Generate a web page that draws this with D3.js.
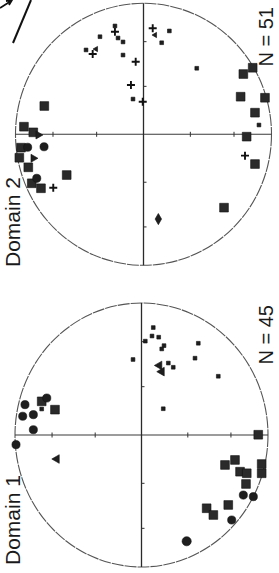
<!DOCTYPE html>
<html>
<head>
<meta charset="utf-8">
<script src="https://cdn.jsdelivr.net/npm/d3@7"></script>
<style>
  html, body { margin: 0; padding: 0; background: #fff; }
  svg { display: block; }
</style>
</head>
<body>
<svg id="fig" width="279" height="573"></svg>
<script>
// plunges marked with ticks on the net axes
const tickPlunges = [30, 60];

// Domain 2 (top net), projected coords in unit circle [u, v]
const d2Squares = [[-0.775,0.216],[-0.934,0.058],[-0.861,0.015],[-0.957,-0.102],[-0.970,-0.179],
  [-0.900,-0.252],[-0.873,-0.374],[-0.801,-0.412],[-0.600,-0.311],[0.853,0.508],[0.780,0.460],
  [0.759,0.287],[0.949,0.279],[0.871,0.165],[0.806,-0.018],[0.871,-0.227],[0.629,-0.560]];
const d2Circles = [[-0.905,-0.099],[-0.777,-0.095],[-0.834,-0.336]];
const d2Triangles = [[-0.822,-0.005],[-0.861,-0.183]];
const d2SmallTri = [[0.090,0.758],[-0.371,0.651]];
const d2Plus = [[-0.223,0.783],[-0.397,0.613],[-0.061,0.554],[-0.098,0.376],[-0.006,0.249],
  [0.072,0.809],[0.793,-0.163],[-0.705,-0.408]];
const d2Dots = [[-0.223,0.827],[-0.199,0.735],[-0.160,0.705],[-0.160,0.605],[-0.340,0.745],
  [-0.449,0.644],[-0.082,0.269],[0.202,0.789],[0.142,0.699],[0.416,0.504],[0.902,0.071]];
const d2Diamonds = [[0.116,-0.647]];

// Domain 1 (bottom net)
const d1Squares = [[-0.789,0.255],[-0.684,0.192],[0.923,0.002],[0.660,-0.227],[0.739,-0.189],
  [0.779,-0.278],[0.832,-0.290],[0.826,-0.371],[0.950,-0.220],[0.950,-0.290],[0.515,-0.555],
  [0.568,-0.606],[0.686,-0.530]];
const d1Circles = [[-0.992,-0.073],[-0.939,0.142],[-0.921,0.230],[-0.855,0.154],[-0.855,0.040],
  [-0.749,0.280],[0.805,-0.455],[0.884,-0.467],[0.713,-0.644]];
const d1BigCircles = [[0.357,-0.805]];
const d1Triangles = [[-0.670,-0.182],[0.141,0.527],[0.160,0.480]];
const d1Dots = [[0.093,0.814],[0.083,0.750],[0.136,0.741],[0.030,0.711],[0.178,0.677],[0.160,0.652],
  [-0.067,0.572],[0.449,0.695],[0.423,0.582],[0.212,0.545],[0.251,0.513],[0.607,0.445],
  [0.172,0.199],[-0.789,0.197]];

const svg = d3.select("#fig");
const font = "'Liberation Sans', Arial, sans-serif";

function net(cx, cy, rx, ry, layers, label, count) {
    const x = d3.scaleLinear().domain([-1, 1]).range([cx - rx, cx + rx]);
    const y = d3.scaleLinear().domain([-1, 1]).range([cy + ry, cy - ry]);
    const g = svg.append("g");

    g.append("ellipse")
        .attr("cx", x(0)).attr("cy", y(0))
        .attr("rx", rx).attr("ry", ry)
        .attr("fill", "none")
        .attr("stroke", "#555")
        .attr("stroke-width", 1.1)
        .attr("stroke-dasharray", "12,1");

    g.append("line")
        .attr("x1", x(-1)).attr("x2", x(1)).attr("y1", y(0)).attr("y2", y(0))
        .attr("stroke", "#3a3a3a").attr("stroke-width", 1.1);
    g.append("line")
        .attr("x1", x(0)).attr("x2", x(0)).attr("y1", y(-1)).attr("y2", y(1))
        .attr("stroke", "#2a2a2a").attr("stroke-width", 1.3);

    // equal-area tick positions
    const tv = [];
    tickPlunges.forEach(p => {
        const r = Math.SQRT2 * Math.sin((90 - p) / 2 * Math.PI / 180);
        tv.push(r, -r);
    });
    g.selectAll(".tx").data(tv).enter().append("line")
        .attr("x1", d => x(d)).attr("x2", d => x(d))
        .attr("y1", y(0) - 2.5).attr("y2", y(0) + 2.5)
        .attr("stroke", "#333").attr("stroke-width", 1);
    g.selectAll(".ty").data(tv).enter().append("line")
        .attr("y1", d => y(d)).attr("y2", d => y(d))
        .attr("x1", x(0)).attr("x2", x(0) + 3)
        .attr("stroke", "#333").attr("stroke-width", 1);

    layers.forEach(l => {
        if (l.plus) {
            g.selectAll(null).data(l.data).enter().append("path")
                .attr("d", d => `M${x(d[0]) - l.s},${y(d[1])}h${2 * l.s}M${x(d[0])},${y(d[1]) - l.s}v${2 * l.s}`)
                .attr("stroke", "#111").attr("stroke-width", l.w || 1.8);
            return;
        }
        g.selectAll(null).data(l.data).enter().append("path")
            .attr("d", d3.symbol().type(l.type).size(l.size))
            .attr("transform", d => `translate(${x(d[0])},${y(d[1])}) rotate(${l.rot || 0})`)
            .attr("fill", l.fill || "#1e1e1e")
            .attr("stroke", "#111")
            .attr("stroke-width", 0.6);
    });

    svg.append("text")
        .attr("transform", `translate(20,${label[1]}) rotate(-90)`)
        .attr("font-family", font).attr("font-size", 21)
        .attr("fill", "#1a1a1a")
        .text(label[0]);
    svg.append("text")
        .attr("transform", `translate(273,${count[1]}) rotate(-90)`)
        .attr("text-anchor", "end")
        .attr("font-family", font).attr("font-size", 20)
        .attr("fill", "#1a1a1a")
        .text(count[0]);
}

net(143.5, 134.3, 128, 131, [
    {data: d2Squares, type: d3.symbolSquare, size: 76, fill: "#2a2a2a"},
    {data: d2Circles, type: d3.symbolCircle, size: 52},
    {data: d2Triangles, type: d3.symbolTriangle, size: 28, rot: 90},
    {data: d2SmallTri, type: d3.symbolTriangle, size: 12, rot: -90},
    {data: d2Plus, plus: true, s: 4, w: 1.9},
    {data: d2Dots, type: d3.symbolSquare, size: 14},
    {data: d2Diamonds, type: d3.symbolDiamond, size: 36}
], ["Domain 2", 267], ["N = 51", 7]);

net(141.5, 435, 126.5, 132, [
    {data: d1Squares, type: d3.symbolSquare, size: 76, fill: "#2a2a2a"},
    {data: d1Circles, type: d3.symbolCircle, size: 52},
    {data: d1BigCircles, type: d3.symbolCircle, size: 66},
    {data: d1Triangles, type: d3.symbolTriangle, size: 32, rot: -90},
    {data: d1Dots, type: d3.symbolSquare, size: 14}
], ["Domain 1", 565], ["N = 45", 305]);

// cropped arrow fragments at top-left corner
svg.append("path")
    .attr("d", "M13,43L31,0")
    .attr("stroke", "#111").attr("stroke-width", 2).attr("fill", "none");
svg.append("path")
    .attr("d", "M0,8L11,1M6,1L12,0L9,5")
    .attr("stroke", "#111").attr("stroke-width", 1.8).attr("fill", "none");
</script>
</body>
</html>
